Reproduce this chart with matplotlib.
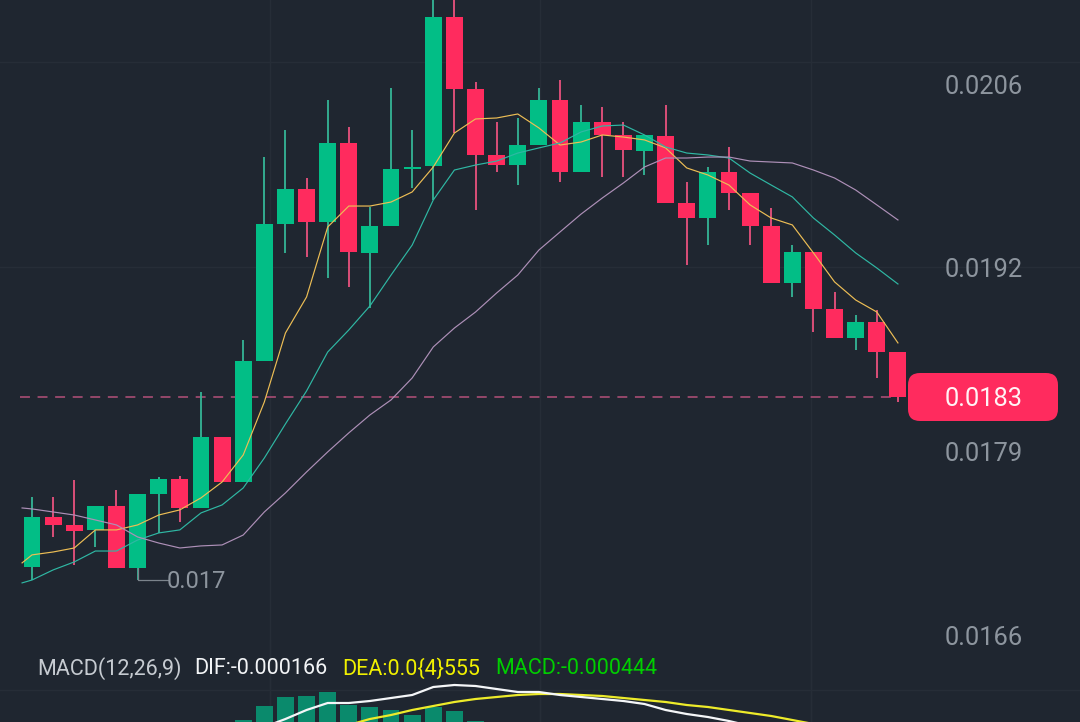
import matplotlib
matplotlib.use("Agg")
import matplotlib.pyplot as plt
from matplotlib.patches import FancyBboxPatch

# Prices are held in units of 1e-4 (e.g. 182.99 = 0.018299)
opens = [170.67,174.29,173.71,173.35,175.09,170.59,175.95,177.04,174.94,180.09,176.82,185.59,195.52,198.06,195.66,201.39,193.42,195.37,199.50,199.72,210.52,205.30,200.52,199.79,201.24,204.50,199.29,202.91,201.97,200.81,201.90,197.04,195.95,199.29,197.76,195.37,191.24,193.49,189.36,187.26,188.42,186.24]
closes = [174.29,173.71,173.27,175.09,170.59,175.95,177.04,174.94,180.09,176.82,185.59,195.52,198.06,195.66,201.39,193.49,195.37,199.50,199.65,210.52,205.30,200.52,199.79,201.24,204.50,199.29,202.91,201.97,200.88,201.97,197.04,195.95,199.29,197.76,195.37,191.24,193.49,189.36,187.26,188.42,186.24,182.99]
highs = [175.74,175.74,176.97,175.09,176.24,175.95,177.19,177.26,183.35,180.09,187.11,200.37,202.33,198.85,204.50,202.55,196.75,205.37,202.33,212.11,212.11,205.81,202.91,203.20,205.37,205.95,204.14,204.00,202.91,201.97,204.14,198.56,199.65,201.10,197.76,196.68,193.99,193.49,190.59,188.92,189.29,186.24]
lows = [169.72,172.84,170.81,172.11,170.59,169.72,173.13,173.93,174.94,176.82,176.82,185.59,193.42,193.13,191.61,190.95,189.43,195.37,198.13,197.26,202.11,196.53,199.29,198.34,201.24,198.56,199.29,198.93,198.93,199.07,197.04,192.55,193.99,196.53,193.99,191.24,190.23,187.69,187.26,186.39,184.36,182.62]

ma_x_start = -0.47
ma5 = [170.96,171.54,171.75,172.04,173.35,173.35,173.71,174.43,174.80,175.67,176.82,178.78,182.62,187.62,190.23,195.30,196.82,196.82,197.11,197.84,199.65,202.11,203.13,203.20,203.49,202.48,201.24,201.46,201.97,201.82,201.61,201.03,199.58,199.07,198.34,196.90,195.95,195.45,193.42,191.32,190.01,189.14,186.90]
ma10 = [169.51,169.72,170.45,171.03,171.82,171.82,172.62,173.13,173.35,174.58,175.16,176.39,178.56,181.03,183.42,186.24,187.84,189.58,191.82,193.99,197.26,199.43,199.79,200.08,200.66,201.03,201.39,202.19,202.62,202.69,201.97,201.10,200.66,200.52,200.30,199.21,198.34,197.48,195.95,194.72,193.42,192.33,191.17]
ma30 = [174.94,174.87,174.65,174.43,174.07,173.71,172.84,172.40,172.04,172.19,172.26,172.98,174.65,176.03,177.55,179.00,180.38,181.68,182.77,184.36,186.61,187.98,189.14,190.52,191.82,193.63,194.94,196.24,197.40,198.49,199.65,200.30,200.30,200.37,200.37,200.08,200.01,199.94,199.43,198.85,197.98,196.90,195.81]

tick_values = [205.66, 192.33, 179.00, 165.67]
tick_labels = ["0.0206", "0.0192", "0.0179", "0.0166"]
last_price = 182.99
last_label = "0.0183"
low_price = 169.72
low_label = "0.017"
grid_prices = [207.26, 192.40]
grid_times = [11.25, 24.03, 36.88]

# MACD panel, units of 1e-4 (only the top of the panel is in frame)
hist_start = 10
hist = [0.80,1.36,1.72,1.76,1.92,1.40,1.32,1.20,1.00,1.32,1.16,0.76]
dif_start = 11
dif = [0.52,0.84,1.20,1.48,1.48,1.56,1.68,1.80,2.12,2.20,2.16,2.04,1.92,1.92,1.80,1.72,1.64,1.56,1.44,1.20,1.04,0.92,0.76,0.56]
dea_start = 15
dea = [0.60,0.84,1.00,1.20,1.36,1.52,1.64,1.72,1.80,1.84,1.84,1.80,1.76,1.68,1.60,1.52,1.40,1.32,1.20,1.08,0.96,0.80,0.64]
macd_grid = 2.0
macd_texts = ["MACD(12,26,9)", "DIF:-0.000166", "DEA:0.0{4}555", "MACD:-0.000444"]

BG = "#1F2630"
UP = "#02BE86"
DOWN = "#FF2B5E"
UPW = "#35B596"
DOWNW = "#E9527E"
GRID = "#262D37"
LABEL = "#8D959E"
W, H = 1080, 722

plt.rcParams["font.family"] = ["Roboto", "DejaVu Sans"]
fig = plt.figure(figsize=(W / 100, H / 100), dpi=100, facecolor=BG)

XLIM = (-1.515, 49.62)
ax = fig.add_axes([0, 0, 1, 1], facecolor=BG)
ax.set_xlim(*XLIM)
ax.set_ylim(159.43, 211.75)
ax.axis("off")

for g in grid_prices:
    ax.axhline(g, color=GRID, lw=1.0, zorder=1)
for g in grid_times:
    ax.axvline(g, color=GRID, lw=1.0, zorder=1)

ax.plot([-0.57, 41.0], [last_price, last_price], color="#B5507A", lw=1.1,
        dashes=(6.5, 5), zorder=2)

n = len(opens)
for i in range(n):
    up = closes[i] >= opens[i]
    ax.vlines(i, lows[i], highs[i], color=UPW if up else DOWNW, lw=1.3, zorder=3)
    ax.bar(i, abs(closes[i] - opens[i]), bottom=min(opens[i], closes[i]), width=0.8,
           color=UP if up else DOWN, linewidth=0, zorder=4)

xs = [ma_x_start] + list(range(n))
ax.plot(xs, ma5, color="#EDBE55", lw=0.85, zorder=5)
ax.plot(xs, ma10, color="#2FB8A4", lw=0.85, zorder=5)
ax.plot(xs, ma30, color="#AE90B8", lw=0.85, zorder=5)

# Low marker
ax.plot([5, 5, 6.43], [closes[4], low_price, low_price], color="#7C848C", lw=0.9, zorder=3)
ax.annotate(low_label, (6.38, low_price), xytext=(0, -1.4), textcoords="offset points",
            color=LABEL, fontsize=17, va="center", ha="left", zorder=6)

# Price axis labels
for v, s in zip(tick_values, tick_labels):
    ax.annotate(s, (46.9, v), xytext=(0, -1.8), textcoords="offset points",
                color=LABEL, fontsize=18.4, va="center", ha="right", zorder=6)

# MACD panel
pax = fig.add_axes([0, 0, 1, 82 / H], facecolor="none")
pax.set_xlim(*XLIM)
pax.set_ylim(0.72, 4.0)
pax.axis("off")
pax.axhline(macd_grid, color=GRID, lw=1.0, zorder=1)
for g in grid_times:
    pax.axvline(g, color=GRID, lw=1.0, zorder=1)
pax.bar(range(hist_start, hist_start + len(hist)), hist, width=0.8, color="#0A8A6C",
        linewidth=0, zorder=2)
pax.plot(range(dea_start, dea_start + len(dea)), dea, color="#EDEB2A", lw=1.6, zorder=3)
pax.plot(range(dif_start, dif_start + len(dif)), dif, color="#F4F6F8", lw=1.6, zorder=4)

# Pixel-placed overlay for the price tag and MACD legend
ov = fig.add_axes([0, 0, 1, 1], facecolor="none")
ov.set_xlim(0, W)
ov.set_ylim(H, 0)
ov.axis("off")
ov.add_patch(FancyBboxPatch((918, 383), 130, 28, boxstyle="round,pad=10,rounding_size=12",
                            facecolor=DOWN, edgecolor="none", zorder=7))
ov.text(984, 399.5, last_label, color="#FFF3F5", fontsize=18.4, ha="center", va="center", zorder=8)

for x, s, c in zip([37, 194, 342, 495], macd_texts, ["#C6CBD1", "#F2F4F6", "#F0F000", "#00CE00"]):
    ov.text(x, 669, s, color=c, fontsize=15.5, ha="left", va="center", zorder=8)

fig.savefig("out.png", dpi=100, facecolor=BG)
